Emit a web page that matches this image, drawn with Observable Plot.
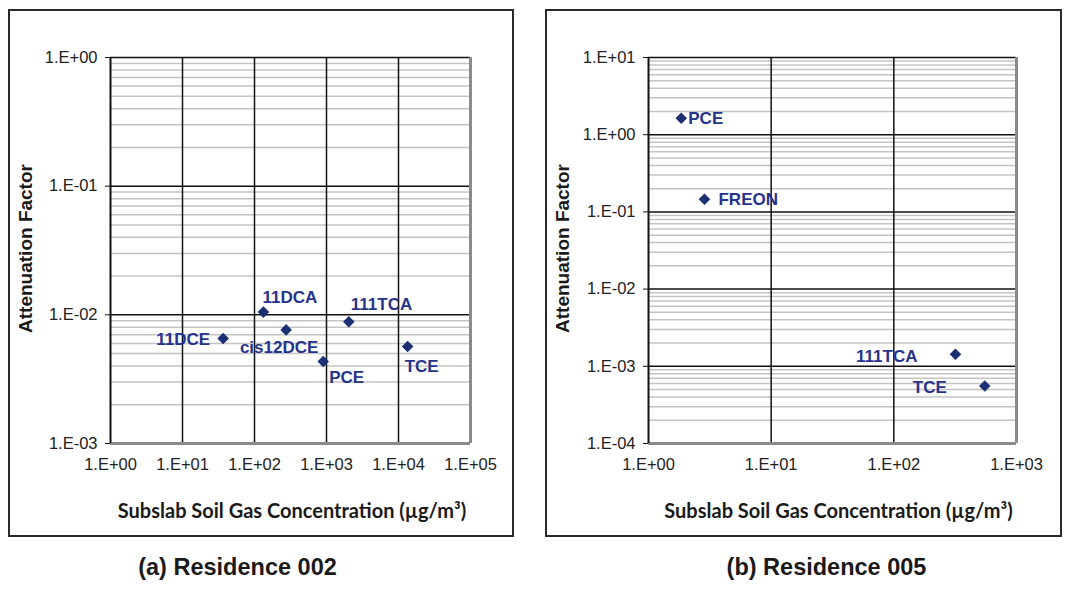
<!DOCTYPE html>
<html>
<head>
<meta charset="utf-8">
<script src="https://cdn.jsdelivr.net/npm/d3@7"></script>
<script src="https://cdn.jsdelivr.net/npm/@observablehq/plot@0.6"></script>
<style>
  html, body { margin: 0; padding: 0; background: #fff; }
  #root { position: relative; width: 1070px; height: 592px; overflow: hidden; font-family: "Liberation Sans", Arial, sans-serif; }
  .panel { position: absolute; }
  .panel svg { position: absolute; left: 0; top: 0; }
  .border { position: absolute; left: 0; top: 0; right: 0; bottom: 0; border: 2px solid #2a2a2a; box-sizing: border-box; pointer-events: none; }
  .caption { position: absolute; font-weight: bold; font-size: 23.5px; color: #1a1a1a; white-space: nowrap; transform: translateX(-50%); line-height: 28px; }
</style>
</head>
<body>
<div id="root"></div>
<script>
// ---- Data: Residence 002 ----
const chemA = ["11DCE", "11DCA", "cis12DCE", "PCE", "111TCA", "TCE"];
const concA = [36.7, 133, 275, 900, 2040, 13400];
const afA   = [0.00655, 0.0105, 0.00764, 0.00434, 0.00882, 0.00567];

// ---- Data: Residence 005 ----
const chemB = ["PCE", "FREON", "111TCA", "TCE"];
const concB = [1.85, 2.86, 318, 551];
const afB   = [1.63, 0.146, 0.00143, 0.000556];

// ---- Tick values and labels ----
const xTicksA = [1, 10, 100, 1000, 10000, 100000];
const xTickLabelsA = ["1.E+00", "1.E+01", "1.E+02", "1.E+03", "1.E+04", "1.E+05"];
const yTicksA = [0.001, 0.01, 0.1, 1];
const yTickLabelsA = ["1.E-03", "1.E-02", "1.E-01", "1.E+00"];

const xTicksB = [1, 10, 100, 1000];
const xTickLabelsB = ["1.E+00", "1.E+01", "1.E+02", "1.E+03"];
const yTicksB = [0.0001, 0.001, 0.01, 0.1, 1, 10];
const yTickLabelsB = ["1.E-04", "1.E-03", "1.E-02", "1.E-01", "1.E+00", "1.E+01"];

// ---- Text ----
const yTitle = "Attenuation Factor";
const xTitle = "Subslab Soil Gas Concentration (\u00b5g/m\u00b3)";
const captionA = "(a) Residence 002";
const captionB = "(b) Residence 005";

// ---- Label placement (layout, kept apart from the data) ----
const placeA = {
  "11DCE":    {dx: -13, dy: 1,   anchor: "end"},
  "11DCA":    {dx: -1,  dy: -15, anchor: "start"},
  "cis12DCE": {dx: -7,  dy: 18,  anchor: "middle"},
  "PCE":      {dx: 6,   dy: 16,  anchor: "start"},
  "111TCA":   {dx: 2,   dy: -17, anchor: "start"},
  "TCE":      {dx: -3,  dy: 20,  anchor: "start"}
};
const placeB = {
  "PCE":    {dx: 7,   dy: 0, anchor: "start"},
  "FREON":  {dx: 14,  dy: 0, anchor: "start"},
  "111TCA": {dx: -38, dy: 2, anchor: "end"},
  "TCE":    {dx: -38, dy: 2, anchor: "end"}
};

const labelColor = "#26338c";
const markerColor = "#1b2f72";

function minorGrid(ticks) {
  const out = [];
  for (let i = 0; i < ticks.length - 1; i++) {
    for (let k = 2; k <= 9; k++) out.push(ticks[i] * k);
  }
  return out;
}

function makePanel(cfg) {
  const data = cfg.chem.map((c, i) => ({chem: c, conc: cfg.conc[i], af: cfg.af[i]}));
  const xMap = new Map(cfg.xTicks.map((t, i) => [t, cfg.xLabels[i]]));
  const yMap = new Map(cfg.yTicks.map((t, i) => [t, cfg.yLabels[i]]));
  const xmin = cfg.xTicks[0], xmax = cfg.xTicks[cfg.xTicks.length - 1];
  const ymin = cfg.yTicks[0], ymax = cfg.yTicks[cfg.yTicks.length - 1];

  const labelMarks = data.map(d => {
    const p = cfg.place[d.chem];
    return Plot.text([d], {
      x: "conc", y: "af", text: "chem",
      dx: p.dx, dy: p.dy, textAnchor: p.anchor,
      fill: labelColor, fontWeight: "bold", fontSize: 17
    });
  });

  return Plot.plot({
    width: cfg.width,
    height: cfg.height,
    marginLeft: cfg.ml, marginRight: cfg.mr, marginTop: cfg.mt, marginBottom: cfg.mb,
    style: {fontFamily: "'Liberation Sans', Arial, sans-serif", fontSize: "16.5px", color: "#222", background: "transparent", overflow: "visible"},
    x: {type: "log", domain: [xmin, xmax]},
    y: {type: "log", domain: [ymin, ymax]},
    marks: [
      Plot.ruleY(minorGrid(cfg.yTicks), {stroke: "#c4c4c4", strokeWidth: 1.5}),
      Plot.ruleY(cfg.yTicks.slice(1), {stroke: "#111", strokeWidth: 1.5}),
      Plot.ruleX(cfg.xTicks.slice(1, -1), {stroke: "#111", strokeWidth: 1.5}),
      Plot.ruleX([xmax], {stroke: "#8a8a8a", strokeWidth: 3}),
      Plot.ruleY([ymin], {stroke: "#8a8a8a", strokeWidth: 3}),
      Plot.ruleX([xmin], {stroke: "#111", strokeWidth: 2}),
      Plot.axisY({ticks: cfg.yTicks, tickFormat: d => yMap.get(d), tickSize: 5, tickPadding: 8, label: null, stroke: "#111"}),
      Plot.axisX({ticks: cfg.xTicks, tickFormat: d => xMap.get(d), tickSize: 0, tickPadding: 15, label: null}),
      Plot.text([yTitle], {frameAnchor: "left", textAnchor: "middle", dx: cfg.ytDx, dy: -2, rotate: -90, fontWeight: "bold", fontSize: 19, fill: "#1a1a1a"}),
      Plot.text([xTitle], {frameAnchor: "bottom", textAnchor: "middle", dx: cfg.xtDx, dy: 74, fontFamily: "Lato, 'Open Sans', sans-serif", fontWeight: "bold", fontSize: 20, fill: "#1a1a1a"}),
      Plot.dot(data, {x: "conc", y: "af", symbol: "diamond2", r: 5.2, fill: markerColor, stroke: "none"}),
      ...labelMarks
    ]
  });
}

const root = document.getElementById("root");

function addPanel(left, top, w, h, svg) {
  const div = document.createElement("div");
  div.className = "panel";
  div.style.left = left + "px";
  div.style.top = top + "px";
  div.style.width = w + "px";
  div.style.height = h + "px";
  div.appendChild(svg);
  const b = document.createElement("div");
  b.className = "border";
  div.appendChild(b);
  root.appendChild(div);
}

function addCaption(text, cx, cy) {
  const c = document.createElement("div");
  c.className = "caption";
  c.textContent = text;
  c.style.left = cx + "px";
  c.style.top = (cy - 14) + "px";
  root.appendChild(c);
}

const svgA = makePanel({
  chem: chemA, conc: concA, af: afA,
  xTicks: xTicksA, xLabels: xTickLabelsA, yTicks: yTicksA, yLabels: yTickLabelsA,
  place: placeA, width: 506, height: 528, ml: 102, mr: 44, mt: 48, mb: 94,
  ytDx: -85, xtDx: 1.5
});
addPanel(8, 9, 506, 528, svgA);

const svgB = makePanel({
  chem: chemB, conc: concB, af: afB,
  xTicks: xTicksB, xLabels: xTickLabelsB, yTicks: yTicksB, yLabels: yTickLabelsB,
  place: placeB, width: 517, height: 528, ml: 103, mr: 46, mt: 48, mb: 94,
  ytDx: -86, xtDx: 6
});
addPanel(545, 9, 517, 528, svgB);

addCaption(captionA, 237.5, 567);
addCaption(captionB, 826.5, 567);
</script>
</body>
</html>
